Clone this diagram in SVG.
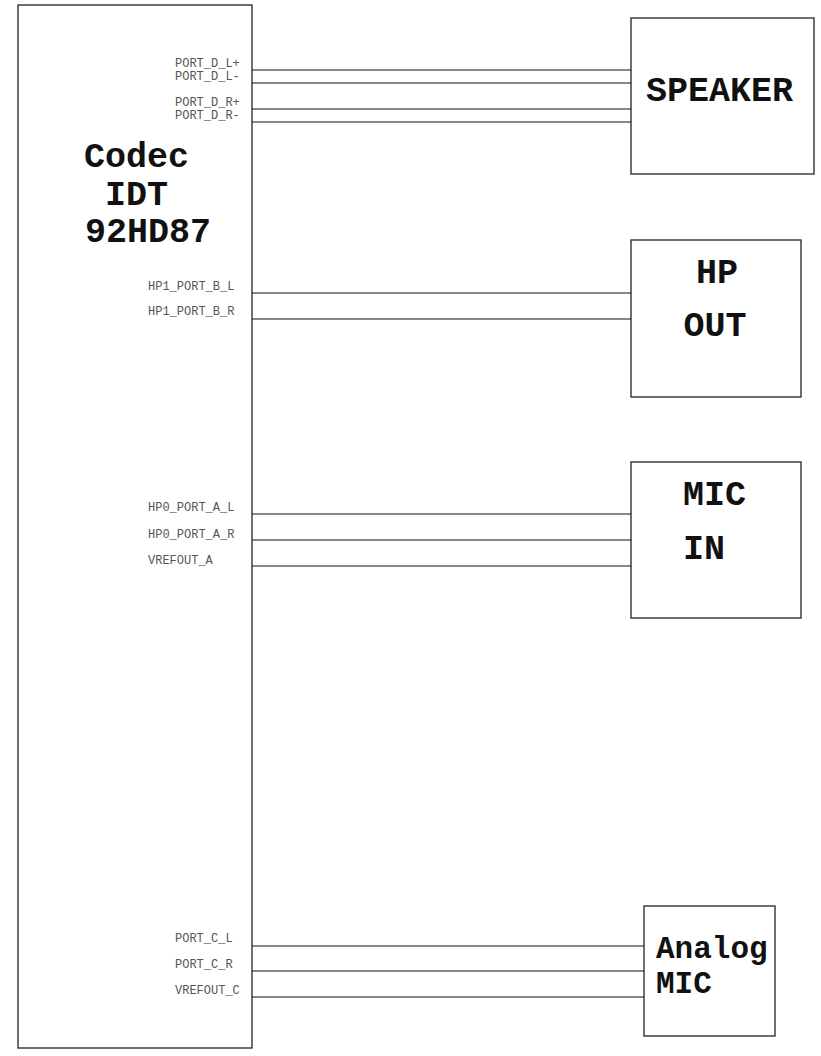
<svg xmlns="http://www.w3.org/2000/svg" width="821" height="1056" viewBox="0 0 821 1056">
<style>
.box{fill:#fff;stroke:#333;stroke-width:1.4}
.big{font-family:"Liberation Mono","Courier New",monospace;font-weight:bold;font-size:35px;fill:#111}
.mid{font-family:"Liberation Mono","Courier New",monospace;font-weight:bold;font-size:31px;fill:#111}
.pin{font-family:"Liberation Mono","Courier New",monospace;font-size:12px;fill:#555}
.wire{stroke:#111;stroke-width:1.2;fill:none}
</style>
<rect width="821" height="1056" fill="#fff"/>
<g id="codec">
<rect class="box" x="18" y="5" width="234" height="1043"/>
<text class="big" x="84" y="167">Codec</text>
<text class="big" x="105" y="205">IDT</text>
<text class="big" x="85" y="242">92HD87</text>
<text class="pin" x="175" y="67">PORT_D_L+</text>
<text class="pin" x="175" y="80">PORT_D_L-</text>
<text class="pin" x="175" y="106">PORT_D_R+</text>
<text class="pin" x="175" y="119">PORT_D_R-</text>
<text class="pin" x="148" y="290">HP1_PORT_B_L</text>
<text class="pin" x="148" y="315">HP1_PORT_B_R</text>
<text class="pin" x="148" y="511">HP0_PORT_A_L</text>
<text class="pin" x="148" y="538">HP0_PORT_A_R</text>
<text class="pin" x="148" y="564">VREFOUT_A</text>
<text class="pin" x="175" y="942">PORT_C_L</text>
<text class="pin" x="175" y="968">PORT_C_R</text>
<text class="pin" x="175" y="994">VREFOUT_C</text>
</g>
<g id="speaker">
<rect class="box" x="631" y="18" width="183" height="156"/>
<text class="big" x="646" y="101">SPEAKER</text>
</g>
<g id="hpout">
<rect class="box" x="631" y="240" width="170" height="157"/>
<text class="big" x="717" y="283" text-anchor="middle">HP</text>
<text class="big" x="715" y="336" text-anchor="middle">OUT</text>
</g>
<g id="micin">
<rect class="box" x="631" y="462" width="170" height="156"/>
<text class="big" x="683" y="505">MIC</text>
<text class="big" x="683" y="559">IN</text>
</g>
<g id="analogmic">
<rect class="box" x="644" y="906" width="131" height="130"/>
<text class="mid" x="656" y="958">Analog</text>
<text class="mid" x="656" y="993">MIC</text>
</g>
<g id="connectors">
<line class="wire" x1="252" y1="70" x2="631" y2="70"/>
<line class="wire" x1="252" y1="83" x2="631" y2="83"/>
<line class="wire" x1="252" y1="109" x2="631" y2="109"/>
<line class="wire" x1="252" y1="122" x2="631" y2="122"/>
<line class="wire" x1="252" y1="293" x2="631" y2="293"/>
<line class="wire" x1="252" y1="319" x2="631" y2="319"/>
<line class="wire" x1="252" y1="514" x2="631" y2="514"/>
<line class="wire" x1="252" y1="540" x2="631" y2="540"/>
<line class="wire" x1="252" y1="566" x2="631" y2="566"/>
<line class="wire" x1="252" y1="946" x2="644" y2="946"/>
<line class="wire" x1="252" y1="971" x2="644" y2="971"/>
<line class="wire" x1="252" y1="997" x2="644" y2="997"/>
</g>
</svg>
